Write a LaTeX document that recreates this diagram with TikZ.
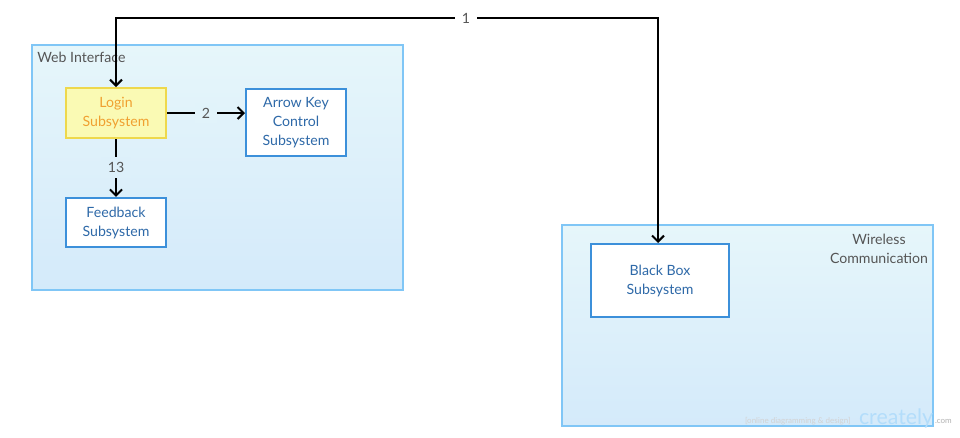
\documentclass[tikz,border=0pt]{standalone}
\usepackage{fontspec}
\setmainfont{Lato}
\usepackage{xcolor}
\usepackage{tikz}
\usetikzlibrary{positioning}
\usetikzlibrary{arrows.meta}

\definecolor{grpline}{HTML}{80C6F6}
\definecolor{grptop}{HTML}{E6F6FA}
\definecolor{grpbot}{HTML}{D4EAFA}
\definecolor{boxline}{HTML}{3C90DA}
\definecolor{boxtext}{HTML}{2E69A8}
\definecolor{loginfill}{HTML}{FAFAB4}
\definecolor{loginline}{HTML}{EED84C}
\definecolor{logintext}{HTML}{F0A030}
\definecolor{labeltext}{HTML}{555555}

\tikzset{
  group/.style={draw=grpline,line width=1.5pt,top color=grptop,bottom color=grpbot},
  subsys/.style={rectangle,draw=boxline,line width=1.5pt,fill=white,text=boxtext,
    align=center,minimum width=75pt},
  login/.style={subsys,draw=loginline,fill=loginfill,text=logintext},
  lbl/.style={text=labeltext,inner sep=2.5pt},
  numlbl/.style={lbl,inner xsep=5pt,inner ysep=4pt}
}

\begin{document}
\begin{tikzpicture}[x=0.75pt,y=-0.75pt,->,>={Straight Barb[length=4.5pt,width=9pt]},line width=1.5pt,
    font=\fontsize{10.6}{14.25}\selectfont]

    \useasboundingbox (0,0) rectangle (960,437);

    % containers
    \draw[group,-] (32,45) rectangle (403,290);
    \draw[group,-] (562,225) rectangle (933,426);
    \node[lbl,anchor=north west] (webname) at (33,48) {Web Interface};
    \node[lbl,align=center] (wirename) at (879,249) {Wireless\\Communication};

    % subsystems
    \node[login,minimum height=37.5pt] (login) at (116,113) {Login\\Subsystem};
    \node[subsys,minimum height=50.25pt] (arrowkey) at (296,122.5) {Arrow Key\\Control\\Subsystem};
    \node[subsys,minimum height=37pt] (feedback) at (116,222.5) {Feedback\\Subsystem};
    \node[subsys,minimum width=103.5pt,minimum height=54.75pt] (blackbox) at (660,280.5) {Black Box\\Subsystem};

    \coordinate (toprow) at (466,18);

    \draw[<->] (login.north) |- (toprow) node[numlbl,fill=white] {1} -| (blackbox.north -| 658,0);
    \path (login.east)   edge        node[numlbl,fill=grptop!72!grpbot] {2} (login.east -| arrowkey.west)
    (login)   edge        node[numlbl,fill=grptop!50!grpbot] {13} (feedback);

    % watermark
    \node[text=gray!35,font=\fontsize{6}{7}\selectfont,anchor=east] (wmark) at (856,421) {[online diagramming \& design]};
    \node[text=grpline!60,font=\fontsize{16}{17}\selectfont,anchor=west,inner sep=0pt] (wlogo) at (858,418) {creately};
    \node[text=gray!60,font=\fontsize{6}{7}\selectfont,anchor=west,inner sep=0pt] (wcom) at (934,421) {.com};

\end{tikzpicture}
\end{document}
